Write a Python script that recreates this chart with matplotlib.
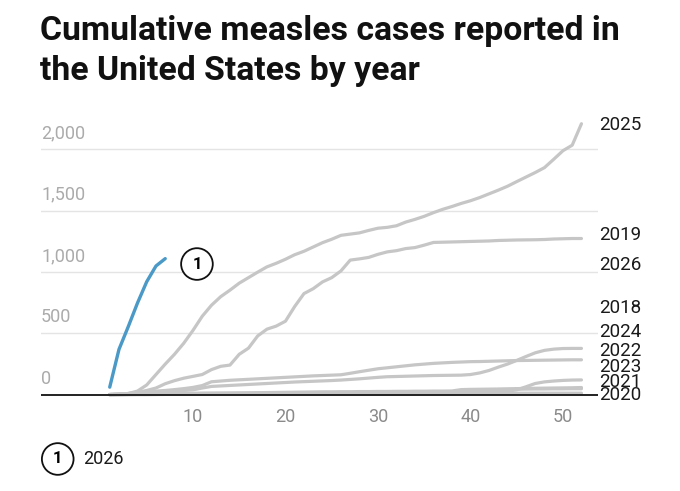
import matplotlib
matplotlib.use("Agg")
import matplotlib.pyplot as plt
import matplotlib.transforms as mtransforms

# cumulative cases by MMWR week
weeks = list(range(1, 53))

cases_2025 = [3, 6, 10, 30, 80, 165, 250, 330, 420, 525, 640, 730, 800, 853, 910, 955,
              1000, 1043, 1072, 1105, 1142, 1170, 1205, 1240, 1268, 1300, 1310, 1320, 1340,
              1358, 1365, 1378, 1408, 1430, 1455, 1485, 1512, 1535, 1560, 1582, 1608, 1638,
              1668, 1700, 1738, 1775, 1812, 1852, 1920, 1990, 2035, 2210]
cases_2019 = [2, 5, 10, 20, 35, 55, 90, 115, 135, 150, 165, 205, 232, 242, 330, 380,
              480, 535, 560, 600, 720, 825, 865, 920, 955, 1010, 1098, 1108, 1120, 1145,
              1165, 1175, 1192, 1200, 1220, 1242, 1244, 1246, 1248, 1250, 1252, 1254, 1258,
              1260, 1262, 1263, 1264, 1266, 1270, 1272, 1274, 1274]
cases_2018 = [2, 4, 8, 12, 16, 20, 25, 30, 35, 40, 55, 68, 72, 76, 80, 84, 88, 92, 96,
              100, 104, 107, 110, 113, 116, 120, 125, 130, 136, 142, 147, 149, 151, 153,
              155, 157, 158, 159, 160, 165, 178, 198, 225, 250, 280, 312, 342, 362, 372,
              377, 378, 378]
cases_2024 = [2, 5, 10, 18, 25, 30, 35, 42, 50, 60, 75, 106, 112, 118, 122, 126, 130,
              134, 138, 142, 146, 150, 154, 157, 160, 163, 175, 188, 200, 212, 220, 228,
              236, 244, 250, 256, 260, 264, 267, 270, 271, 273, 275, 277, 279, 280, 281,
              282, 283, 284, 285, 285]
cases_2022 = [0, 1, 1, 2, 2, 3, 3, 4, 5, 5, 6, 7, 7, 8, 8, 9, 10, 11, 11, 12, 12, 13,
              13, 14, 15, 15, 16, 17, 17, 18, 18, 19, 19, 20, 20, 21, 21, 22, 23, 25, 26,
              27, 28, 30, 40, 65, 92, 105, 112, 117, 120, 121]
cases_2023 = [1, 2, 3, 4, 5, 6, 7, 8, 9, 10, 11, 12, 13, 14, 15, 16, 17, 18, 19, 20, 21,
              22, 23, 24, 24, 25, 25, 26, 26, 27, 27, 28, 28, 29, 29, 30, 30, 31, 42, 44,
              45, 46, 47, 48, 50, 52, 53, 54, 55, 56, 57, 59]
cases_2021 = [1, 1, 2, 2, 2, 2, 3, 3, 3, 3, 3, 4, 4, 4, 4, 4, 4, 5, 5, 5, 5, 5, 5, 5, 5,
              5, 5, 5, 5, 5, 5, 5, 5, 6, 6, 6, 6, 8, 20, 32, 38, 40, 42, 44, 45, 46, 47,
              47, 48, 48, 49, 49]
cases_2020 = [1, 2, 3, 4, 5, 7, 9, 10, 11, 12, 13, 13, 13, 13, 13, 13, 13, 13, 13, 13,
              13, 13, 13, 13, 13, 13, 13, 13, 13, 13, 13, 13, 13, 13, 13, 13, 13, 13, 13,
              13, 13, 13, 13, 13, 13, 13, 13, 13, 13, 13, 13, 13]
weeks_2026 = [1, 2, 3, 4, 5, 6, 7]
cases_2026 = [62, 370, 555, 748, 922, 1050, 1110]

past_years = {
    "2025": cases_2025, "2019": cases_2019, "2018": cases_2018, "2024": cases_2024,
    "2022": cases_2022, "2023": cases_2023, "2021": cases_2021, "2020": cases_2020,
}
# where the end labels sit (spread apart so they don't collide)
label_y = {"2025": 2200, "2019": 1303, "2026": 1058, "2018": 707, "2024": 511,
           "2022": 356, "2023": 225, "2021": 103, "2020": 0}

y_ticks = [0, 500, 1000, 1500, 2000]
x_ticks = [10, 20, 30, 40, 50]

FONT = "Roboto"
GREY = "#c6c6c6"
BLUE = "#4a99c6"

fig = plt.figure(figsize=(6.8, 4.91), dpi=100)
ax = fig.add_axes([0.0603, 0.191, 0.819, 0.5795])
ax.set_xlim(-6.43, 53.78)
ax.set_ylim(-20, 2300)

for v in y_ticks[1:]:
    ax.axhline(v, color="#e4e4e4", lw=1.0, zorder=1)

ytrans = mtransforms.blended_transform_factory(ax.transAxes, ax.transData)
for v in y_ticks:
    ax.annotate(f"{v:,}", xy=(0, v), xycoords=ytrans, xytext=(0, 5),
                textcoords="offset points", ha="left", va="bottom",
                fontsize=13, color="#ababab", family=FONT)

for name, vals in past_years.items():
    ax.plot(weeks, vals, color=GREY, lw=2.3, solid_capstyle="round", clip_on=False, zorder=2)

ax.axhline(0, color="#222222", lw=1.4, zorder=3)

ax.plot(weeks_2026, cases_2026, color=BLUE, lw=2.4, solid_capstyle="round", clip_on=False, zorder=4)

for name, y in label_y.items():
    ax.annotate(name, xy=(1, y), xycoords=ytrans, xytext=(1, 0),
                textcoords="offset points", ha="left", va="center",
                fontsize=13.5, color="#1a1a1a", family=FONT)

circle = dict(boxstyle="circle,pad=0.5", fc="white", ec="#111111", lw=1.3)
ax.text(10.43, 1066, "1", ha="center", va="center", fontsize=12, fontweight="bold",
        family=FONT, bbox=circle, zorder=5)

ax.set_xticks(x_ticks)
ax.set_xticklabels([str(t) for t in x_ticks], fontsize=13, color="#8a8a8a", family=FONT)
ax.tick_params(axis="x", length=0, pad=8)
ax.set_yticks([])
for s in ax.spines.values():
    s.set_visible(False)

fig.text(0.0588, 0.97, "Cumulative measles cases reported in\nthe United States by year",
         ha="left", va="top", fontsize=24.3, fontweight="bold", family=FONT,
         linespacing=1.32, color="#111111")

fig.text(0.0849, 0.0652, "1", ha="center", va="center", fontsize=12, fontweight="bold",
         family=FONT, bbox=circle)
fig.text(0.122, 0.0652, "2026", ha="left", va="center", fontsize=13, color="#1a1a1a",
         family=FONT)

fig.savefig("out.png", dpi=100, facecolor="white")
